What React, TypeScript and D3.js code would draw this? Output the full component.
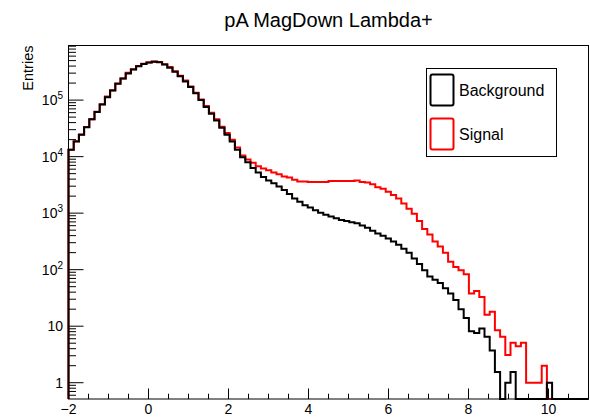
import React from "react";
import * as d3 from "d3";

const xMin = -2;
const xMax = 11;
const nBins = 100;

const background = [
  13200, 18600, 24500, 33100, 45700, 61700, 83200, 112000, 148000, 195000,
  240000, 295000, 347000, 398000, 437000, 462000, 479000, 468000, 427000, 372000,
  316000, 263000, 214000, 170000, 132000, 100000, 75900, 57500, 43700, 32400,
  24500, 18600, 13200, 9770, 7940, 6310, 5250, 4370, 3800, 3390,
  2950, 2570, 2190, 1820, 1585, 1380, 1260, 1120, 1020, 933,
  871, 813, 759, 724, 692, 661, 603, 550, 490, 437,
  398, 355, 316, 275, 234, 200, 158, 126, 98, 76,
  66, 58, 47, 38, 29, 20, 14, 8.1, 7.6, 9.1,
  6.5, 3.7, 1.55, 0, 1, 1.55, 0, 0, 0, 0,
  0, 0, 1, 0, 0, 0, 0, 0, 0, 0,
];

const signal = [
  13300, 18800, 24700, 33300, 46000, 62000, 84500, 116000, 150000, 197000,
  242000, 305000, 350000, 402000, 440000, 465000, 481000, 470000, 432000, 385000,
  325000, 270000, 222000, 174000, 135000, 103000, 79000, 60000, 45800, 33900,
  26300, 19950, 14450, 10470, 8910, 7760, 6760, 6170, 5750, 5250,
  4900, 4470, 4270, 3890, 3630, 3630, 3550, 3550, 3550, 3550,
  3720, 3720, 3720, 3720, 3720, 3800, 3550, 3470, 3240, 2880,
  2690, 2400, 2090, 1820, 1480, 1200, 977, 724, 525, 417,
  316, 257, 200, 138, 112, 98, 83, 38, 42, 33,
  16, 18, 8.5, 6.5, 3.1, 5.1, 4.4, 5.1, 1, 1,
  1, 2, 0, 0, 0, 0, 0, 0, 0, 0,
];

const xMajorTicks = [-2, 0, 2, 4, 6, 8, 10];
const yMajorExponents = [0, 1, 2, 3, 4, 5];
const legendLabels = ["Background", "Signal"];
const seriesColors = ["#000000", "#ff0000"];
const title = "pA MagDown Lambda+";
const yTitle = "Entries";

const FONT = "'Liberation Sans', Arial, Helvetica, sans-serif";

export default function App() {
  const left = 68.5, right = 588.5, top = 45.5, bottom = 399;
  const x = d3.scaleLinear().domain([xMin, xMax]).range([left, right]);
  const yMin = 0.515, yMax = 9.25e5;
  const y = d3.scaleLog().domain([yMin, yMax]).range([bottom, top]);
  const binW = (xMax - xMin) / nBins;

  const histPath = (vals: number[]) => {
    const pts: [number, number][] = [[xMin, yMin]];
    vals.forEach((v, i) => {
      const vv = v > yMin ? v : yMin;
      pts.push([xMin + i * binW, vv]);
      pts.push([xMin + (i + 1) * binW, vv]);
    });
    pts.push([xMax, yMin]);
    return d3
      .line<[number, number]>()
      .x((d) => x(d[0]))
      .y((d) => y(d[1]))(pts) as string;
  };

  const xMinor: number[] = [];
  for (let v = xMin; v <= xMax + 1e-9; v += 0.5) {
    if (!xMajorTicks.some((m) => Math.abs(m - v) < 1e-9)) xMinor.push(v);
  }
  const yMinor: number[] = [];
  for (let e = -1; e <= 5; e++) {
    for (let k = 2; k <= 9; k++) {
      const v = k * Math.pow(10, e);
      if (v >= yMin && v <= yMax) yMinor.push(v);
    }
  }

  return (
    <svg
      width={590}
      height={420}
      style={{ position: "absolute", left: 0, top: 0, background: "#fff" }}
      fontFamily={FONT}
    >
      <rect x={0} y={0} width={590} height={420} fill="#fff" />
      <text x={(left + right) / 2} y={26.5} fontSize={20} textAnchor="middle" fill="#000">
        {title}
      </text>

      <path d={histPath(signal)} fill="none" stroke={seriesColors[1]} strokeWidth={2} />
      <path d={histPath(background)} fill="none" stroke={seriesColors[0]} strokeWidth={2} />

      <rect
        x={left}
        y={top}
        width={right - left}
        height={bottom - top}
        fill="none"
        stroke="#000"
        strokeWidth={1}
      />

      {xMajorTicks.map((t) => (
        <g key={"xm" + t}>
          <line x1={x(t)} x2={x(t)} y1={bottom} y2={bottom - 10.5} stroke="#000" />
          <text x={x(t)} y={414} fontSize={14} textAnchor="middle" fill="#000">
            {t < 0 ? "\u2212" + Math.abs(t) : String(t)}
          </text>
        </g>
      ))}
      {xMinor.map((t) => (
        <line key={"xn" + t} x1={x(t)} x2={x(t)} y1={bottom} y2={bottom - 5.3} stroke="#000" />
      ))}

      {yMajorExponents.map((e) => {
        const v = Math.pow(10, e);
        return (
          <g key={"ym" + e}>
            <line x1={left} x2={left + 15} y1={y(v)} y2={y(v)} stroke="#000" />
            <text x={63} y={y(v) + 5} fontSize={14} textAnchor="end" fill="#000">
              {e === 0 ? "1" : e === 1 ? "10" : (
                <>
                  <tspan>10</tspan>
                  <tspan dy={-6} fontSize={10}>{String(e)}</tspan>
                </>
              )}
            </text>
          </g>
        );
      })}
      {yMinor.map((v) => (
        <line key={"yn" + v} x1={left} x2={left + 7.5} y1={y(v)} y2={y(v)} stroke="#000" />
      ))}

      <text
        transform={`translate(32.5,${top}) rotate(-90)`}
        fontSize={14.5}
        textAnchor="end"
        fill="#000"
      >
        {yTitle}
      </text>

      <rect x={426.5} y={68.5} width={130} height={88} fill="#fff" stroke="#000" strokeWidth={1} />
      {legendLabels.map((lab, i) => (
        <g key={lab}>
          <rect
            x={430.5}
            y={74.5 + i * 44}
            width={23}
            height={31}
            rx={2}
            fill="none"
            stroke={seriesColors[i]}
            strokeWidth={2}
          />
          <text x={459} y={96 + i * 44} fontSize={16} fill="#000">
            {lab}
          </text>
        </g>
      ))}
    </svg>
  );
}
